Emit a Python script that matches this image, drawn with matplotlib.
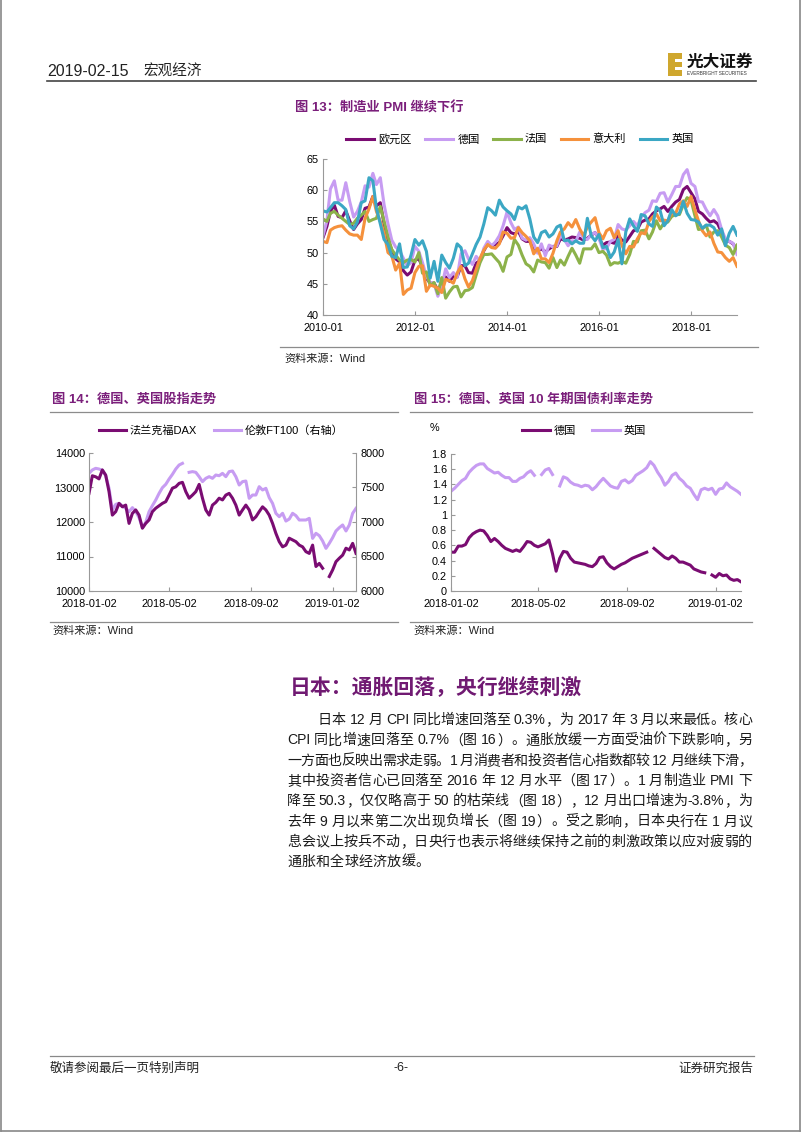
import re
import pandas as pd
import matplotlib
matplotlib.use('Agg')
import matplotlib.pyplot as plt
import matplotlib.dates as mdates
from matplotlib.lines import Line2D
from matplotlib.patches import Rectangle
from matplotlib.font_manager import FontProperties

plt.rcParams['font.family'] = ['Liberation Sans', 'Noto Sans CJK SC', 'DejaVu Sans']

# ---- data: chart 13, manufacturing PMI, monthly 2010-01 .. 2019-01
pmi_names = ['欧元区', '德国', '法国', '意大利', '英国']
pmi_ez = [52.4, 54.2, 56.6, 57.6, 55.8, 55.6, 56.7, 55.1, 53.7, 54.6, 55.3, 57.1,
          57.3, 59.0, 57.5, 58.0, 54.6, 52.0, 50.4, 49.0, 48.5, 47.1, 46.4, 46.9,
          48.8, 49.0, 47.7, 45.9, 45.1, 45.1, 44.0, 45.1, 46.1, 45.4, 46.2, 46.1,
          47.9, 47.9, 46.8, 46.7, 48.3, 48.8, 50.3, 51.4, 51.1, 51.3, 51.6, 52.7,
          54.0, 53.2, 53.0, 53.4, 52.2, 51.8, 51.8, 50.7, 50.3, 50.6, 50.1, 50.6,
          51.0, 51.0, 52.2, 52.0, 52.2, 52.5, 52.4, 52.3, 52.0, 52.3, 52.8, 53.2,
          52.3, 51.2, 51.6, 51.7, 51.5, 52.8, 52.0, 51.7, 52.6, 53.5, 53.7, 54.9,
          55.2, 55.4, 56.2, 56.7, 57.0, 57.4, 56.6, 57.4, 58.1, 58.5, 60.1, 60.6,
          59.6, 58.6, 56.6, 56.2, 55.5, 54.9, 55.1, 54.6, 53.2, 52.0, 51.8, 51.4,
          50.5]
pmi_de = [52.7, 55.1, 60.2, 61.5, 58.4, 58.4, 61.2, 58.2, 55.7, 56.6, 58.1, 60.7,
          60.5, 62.7, 60.9, 62.0, 57.7, 54.6, 52.0, 50.9, 50.3, 49.1, 47.9, 48.4,
          51.0, 50.2, 48.4, 46.2, 45.2, 45.0, 43.0, 44.7, 47.4, 46.0, 46.8, 46.0,
          49.8, 50.3, 49.0, 48.1, 49.4, 48.6, 50.7, 51.8, 51.1, 51.7, 52.7, 54.3,
          56.5, 54.8, 53.7, 54.1, 52.3, 52.0, 52.4, 51.4, 49.9, 51.4, 49.5, 51.2,
          50.9, 51.1, 52.8, 52.1, 51.1, 51.9, 51.8, 53.3, 52.3, 52.1, 52.9, 53.2,
          52.3, 50.5, 50.7, 51.8, 52.1, 54.5, 53.8, 53.6, 54.3, 55.0, 54.3, 55.6,
          56.4, 56.8, 58.3, 58.2, 59.5, 59.6, 58.1, 59.3, 60.6, 60.6, 62.5, 63.3,
          61.1, 60.6, 58.2, 58.1, 56.9, 55.9, 56.9, 55.9, 53.7, 52.2, 51.8, 51.5,
          49.7]
pmi_fr = [55.4, 55.0, 56.3, 56.6, 56.0, 55.5, 55.0, 54.5, 54.7, 55.5, 56.0, 56.6,
          55.0, 55.3, 55.5, 57.4, 55.0, 52.5, 50.5, 49.6, 48.8, 48.4, 48.8, 48.9,
          48.5, 50.0, 46.7, 46.9, 44.7, 45.2, 43.4, 46.0, 42.7, 43.7, 44.5, 44.6,
          42.9, 43.9, 44.0, 44.4, 46.4, 48.4, 49.7, 49.7, 49.8, 49.1, 48.4, 47.0,
          49.3, 49.7, 52.1, 51.2, 49.6, 48.2, 47.8, 46.9, 48.8, 48.5, 48.4, 47.5,
          49.2, 47.6, 48.8, 48.0, 49.4, 50.7, 49.6, 48.3, 50.6, 50.6, 50.6, 51.4,
          50.0, 50.2, 49.6, 48.0, 48.4, 48.3, 48.6, 48.3, 49.7, 51.8, 51.7, 53.5,
          53.6, 52.2, 53.3, 55.1, 53.8, 54.8, 54.9, 55.8, 56.1, 56.1, 57.7, 58.8,
          58.4, 55.9, 53.7, 53.8, 54.4, 52.5, 53.3, 53.5, 52.5, 51.2, 50.8, 49.7,
          51.2]
pmi_it = [51.8, 51.6, 53.6, 54.0, 54.2, 54.3, 53.6, 53.0, 52.8, 52.8, 52.1, 55.5,
          57.0, 59.0, 56.6, 55.0, 53.1, 50.0, 49.5, 47.2, 48.3, 43.3, 44.0, 44.3,
          46.8, 47.8, 47.9, 43.8, 44.8, 44.6, 44.3, 43.6, 45.7, 45.5, 45.1, 46.7,
          47.8, 45.8, 44.5, 45.5, 47.3, 49.1, 50.4, 51.3, 50.8, 50.7, 51.4, 53.3,
          53.1, 52.3, 52.4, 54.0, 53.2, 52.6, 51.9, 49.8, 50.7, 49.0, 49.0, 48.4,
          49.9, 51.9, 53.3, 53.8, 54.8, 54.1, 55.3, 53.8, 52.7, 54.1, 54.9, 55.6,
          53.2, 52.2, 53.5, 53.9, 52.4, 53.5, 51.2, 49.8, 51.0, 50.9, 52.2, 53.2,
          53.0, 55.0, 55.7, 56.2, 55.1, 55.2, 55.1, 56.3, 56.3, 57.8, 58.3, 57.4,
          59.0, 56.8, 55.1, 53.5, 52.7, 53.3, 51.5, 50.1, 50.0, 49.2, 48.6, 49.2,
          47.8]
pmi_uk = [56.7, 56.5, 57.2, 58.0, 58.0, 57.5, 56.9, 54.3, 53.8, 54.9, 58.0, 58.3,
          62.0, 61.5, 57.1, 54.6, 52.1, 51.3, 49.4, 49.2, 51.4, 47.6, 47.7, 49.6,
          52.1, 51.2, 51.9, 50.2, 45.9, 48.6, 45.4, 49.6, 48.4, 47.5, 49.1, 51.4,
          50.8, 47.9, 48.3, 49.8, 51.3, 52.5, 54.6, 57.2, 56.7, 56.0, 58.4, 57.3,
          56.7, 56.2, 55.3, 57.3, 57.0, 57.5, 55.4, 52.5, 51.6, 53.2, 53.5, 52.5,
          53.0, 54.1, 54.4, 51.9, 52.0, 51.4, 51.9, 51.5, 51.5, 55.5, 52.7, 51.9,
          52.9, 50.8, 51.0, 49.2, 50.1, 52.1, 48.2, 53.3, 55.4, 54.3, 53.4, 56.1,
          55.9, 54.6, 54.2, 57.3, 56.7, 54.3, 55.1, 56.9, 55.9, 56.3, 58.2, 56.3,
          55.3, 55.2, 54.9, 53.9, 54.4, 54.4, 54.0, 52.8, 53.8, 51.1, 53.1, 54.2,
          52.8]

# ---- data: chart 14 / 15, sampled every 5 days from 2018-01-02
nan = float('nan')
dax = [12830, 13340, 13310, 13250, 13510, 13360, 12880, 12200, 12300, 12540,
       12440, 12490, 11960, 12250, 12350, 12200, 11820, 11960, 12060, 12300,
       12400, 12470, 12540, 12590, 12780, 12980, 13020, 13120, 13150, 12880,
       12690, 12780, 12880, 13090, 12690, 12350, 12200, 12490, 12570, 12690,
       12640, 12780, 12830, 12690, 12490, 12200, 12350, 12490, 12350, 12060,
       12150, 12300, 12440, 12350, 12200, 11960, 11670, 11430, 11280, 11330,
       11530, 11480, 11430, 11330, 11280, 11140, 11090, 11330, 10710, 10800,
       10660, nan, 10420, 10610, 10850, 10950, 11040, 11240, 11190, 11380,
       11090]
ftse = [7705, 7754, 7778, 7768, 7749, 7671, 7488, 7174, 7256, 7270,
        7232, 7198, 7150, 7208, 7150, 7063, 6918, 6995, 7150, 7237,
        7319, 7415, 7498, 7546, 7623, 7691, 7768, 7826, 7850, nan,
        7720, 7730, 7720, 7657, 7585, 7633, 7657, 7633, 7681, 7671,
        7705, 7657, 7730, 7739, 7657, 7536, 7585, 7594, 7343, 7391,
        7391, 7512, 7464, 7488, 7353, 7270, 7126, 7077, 7126, 7014,
        7043, 7126, 7092, 7029, 7029, 7029, 7053, 6763, 6836, 6802,
        6725, 6618, 6691, 6773, 6870, 6918, 6957, 6870, 6957, 7126,
        7198]
bund = [0.51, 0.51, 0.59, 0.59, 0.61, 0.70, 0.75, 0.78, 0.80, 0.79,
        0.73, 0.65, 0.69, 0.65, 0.60, 0.56, 0.54, 0.52, 0.54, 0.52,
        0.58, 0.65, 0.64, 0.60, 0.58, 0.60, 0.62, 0.67, 0.49, 0.26,
        0.43, 0.52, 0.51, 0.43, 0.38, 0.37, 0.36, 0.35, 0.33, 0.32,
        0.36, 0.44, 0.45, 0.37, 0.32, 0.29, 0.32, 0.35, 0.37, 0.40,
        0.43, 0.45, 0.47, 0.49, 0.51, nan, 0.56, 0.52, 0.48, 0.44,
        0.42, 0.46, 0.43, 0.38, 0.38, 0.36, 0.34, 0.29, 0.27, 0.25,
        0.24, nan, 0.21, 0.18, 0.23, 0.20, 0.21, 0.16, 0.14, 0.15,
        0.12]
gilt = [1.31, 1.35, 1.40, 1.45, 1.48, 1.56, 1.61, 1.65, 1.67, 1.67,
        1.61, 1.58, 1.55, 1.56, 1.52, 1.49, 1.49, 1.44, 1.44, 1.48,
        1.50, 1.55, 1.58, 1.52, nan, 1.53, 1.59, 1.61, 1.53, nan,
        1.38, 1.50, 1.48, 1.43, 1.40, 1.39, 1.37, 1.39, 1.38, 1.33,
        1.37, 1.43, 1.48, 1.43, 1.38, 1.36, 1.35, 1.44, 1.46, 1.42,
        1.45, 1.52, 1.55, 1.58, 1.62, 1.70, 1.65, 1.56, 1.49, 1.39,
        1.44, 1.52, 1.55, 1.48, 1.44, 1.38, 1.35, 1.27, 1.20, 1.33,
        1.35, 1.33, 1.35, 1.27, 1.34, 1.35, 1.42, 1.37, 1.34, 1.31,
        1.27]

body_lines = [
    "日本 12 月 CPI 同比增速回落至 0.3%，为 2017 年 3 月以来最低。核心",
    "CPI 同比增速回落至 0.7%（图 16）。通胀放缓一方面受油价下跌影响，另",
    "一方面也反映出需求走弱。1 月消费者和投资者信心指数都较 12 月继续下滑，",
    "其中投资者信心已回落至 2016 年 12 月水平（图 17）。1 月制造业 PMI 下",
    "降至 50.3，仅仅略高于 50 的枯荣线（图 18），12 月出口增速为-3.8%，为",
    "去年 9 月以来第二次出现负增长（图 19）。受之影响，日本央行在 1 月议",
    "息会议上按兵不动，日央行也表示将继续保持之前的刺激政策以应对疲弱的",
    "通胀和全球经济放缓。",
]

W, H = 802, 1133
PURPLE = '#7A0C72'
LAVENDER = '#C79CF2'
TITLE = '#7B1F7B'
GRID = '#8C8C8C'
pmi_colors = [PURPLE, LAVENDER, '#8CB24A', '#F5913C', '#3BA7C4']

fig = plt.figure(figsize=(W / 100, H / 100), dpi=100)


def fx(x):
    return x / W


def fy(y):
    return 1 - y / H


def add_ax(l, t, r, b):
    return fig.add_axes([l / W, 1 - b / H, (r - l) / W, (b - t) / H])


def hline(x0, x1, y, color=GRID, lw=0.9):
    fig.add_artist(Line2D([fx(x0), fx(x1)], [fy(y), fy(y)], color=color, lw=lw))


def style(ax):
    for s in ['top', 'right']:
        ax.spines[s].set_visible(False)
    for s in ['left', 'bottom']:
        ax.spines[s].set_color('#999999')
        ax.spines[s].set_linewidth(0.8)
    ax.tick_params(direction='in', length=3, width=0.8, color='#999999',
                   labelsize=7.8, pad=3)
    ax.tick_params(axis='x', pad=6)


# page frame
fig.add_artist(Line2D([fx(1), fx(1)], [fy(0), fy(1131)], color='#888888', lw=1.2))
fig.add_artist(Line2D([fx(800), fx(800)], [fy(0), fy(1131)], color='#888888', lw=1.2))
fig.add_artist(Line2D([fx(1), fx(800)], [fy(1131), fy(1131)], color='#888888', lw=1.2))

# header
fig.text(fx(47), fy(72), '2019-02-15', fontsize=11.5, va='center', color='#222222')
fig.text(fx(143), fy(72), '宏观经济', fontsize=10.5, va='center', color='#222222',
         family=['Noto Sans CJK SC'])
hline(47, 756, 81, color='#444444', lw=1.2)
fig.add_artist(Rectangle((fx(668), fy(76)), 14 / W, 23 / H, transform=fig.transFigure,
                         color='#CFA72E', lw=0))
for yy in (59, 67):
    fig.add_artist(Rectangle((fx(675), fy(yy + 3)), 8 / W, 3 / H, transform=fig.transFigure,
                             color='white', lw=0))
fig.text(fx(687), fy(62), '光大证券', fontsize=12, fontweight='bold', va='center',
         family=['Noto Sans CJK SC'], color='#111111')
fig.text(fx(687), fy(73.5), 'EVERBRIGHT SECURITIES', fontsize=3.4, va='center', color='#333333')

# ---- chart 13
fig.text(fx(379), fy(108), '图 13：制造业 PMI 继续下行', fontsize=9.5, fontweight='bold',
         ha='center', va='center', color=TITLE)
months = pd.date_range('2010-01-01', periods=len(pmi_ez), freq='MS')
ax13 = add_ax(323, 159, 737, 315)
handles = []
for vals, name, c in zip([pmi_ez, pmi_de, pmi_fr, pmi_it, pmi_uk], pmi_names, pmi_colors):
    ln, = ax13.plot(months, vals, color=c, lw=2.2, label=name, solid_joinstyle='round')
    handles.append(ln)
ax13.set_xlim(months[0], months[-1])
ax13.set_ylim(40, 65)
ax13.set_yticks(range(40, 66, 5))
ax13.set_xticks(pd.to_datetime(['2010-01-01', '2012-01-01', '2014-01-01',
                                '2016-01-01', '2018-01-01']))
ax13.xaxis.set_major_formatter(mdates.DateFormatter('%Y-%m'))
style(ax13)
fig.legend(handles=handles, loc='center', bbox_to_anchor=(fx(520), fy(139)), ncol=5,
           frameon=False, fontsize=8, handlelength=2.5, handletextpad=0.4,
           columnspacing=1.2)
hline(280, 758, 347)
fig.text(fx(284), fy(359), '资料来源：Wind', fontsize=8, va='center', color='#222222')

# ---- chart 14
days = pd.date_range('2018-01-02', periods=len(dax), freq='5D')
dticks = pd.to_datetime(['2018-01-02', '2018-05-02', '2018-09-02', '2019-01-02'])
fig.text(fx(52), fy(400), '图 14：德国、英国股指走势', fontsize=9.5, fontweight='bold',
         va='center', color=TITLE)
hline(50, 398, 412)
ax14 = add_ax(89, 453, 356, 591)
ax14r = ax14.twinx()
ln_dax, = ax14.plot(days, dax, color=PURPLE, lw=2.2, label='法兰克福DAX')
ln_ft, = ax14r.plot(days, ftse, color=LAVENDER, lw=2.2, label='伦敦FT100（右轴）')
ax14.set_zorder(ax14r.get_zorder() + 1)
ax14.patch.set_visible(False)
ax14.set_ylim(10000, 14000)
ax14.set_yticks(range(10000, 14001, 1000))
ax14r.set_ylim(6000, 8000)
ax14r.set_yticks(range(6000, 8001, 500))
ax14.set_xlim(days[0], days[-1])
ax14.set_xticks(dticks)
ax14.xaxis.set_major_formatter(mdates.DateFormatter('%Y-%m-%d'))
style(ax14)
ax14r.spines['top'].set_visible(False)
ax14r.spines['left'].set_visible(False)
ax14r.spines['bottom'].set_visible(False)
ax14r.spines['right'].set_color('#999999')
ax14r.spines['right'].set_linewidth(0.8)
ax14r.tick_params(direction='in', length=3, width=0.8, color='#999999', labelsize=7.8, pad=3)
fig.legend(handles=[ln_dax, ln_ft], loc='center', bbox_to_anchor=(fx(221), fy(431)), ncol=2,
           frameon=False, fontsize=8, handlelength=2.5, handletextpad=0.3,
           columnspacing=1.5)
hline(50, 398, 622)
fig.text(fx(52), fy(631), '资料来源：Wind', fontsize=8, va='center', color='#222222')

# ---- chart 15
fig.text(fx(414), fy(400), '图 15：德国、英国 10 年期国债利率走势', fontsize=9.5,
         fontweight='bold', va='center', color=TITLE)
hline(410, 752, 412)
ax15 = add_ax(451, 454, 741, 591)
ln_b, = ax15.plot(days, bund, color=PURPLE, lw=2.2, label='德国')
ln_g, = ax15.plot(days, gilt, color=LAVENDER, lw=2.2, label='英国')
ax15.set_ylim(0, 1.8)
yt = [0, 0.2, 0.4, 0.6, 0.8, 1.0, 1.2, 1.4, 1.6, 1.8]
ax15.set_yticks(yt)
ax15.set_yticklabels(['0', '0.2', '0.4', '0.6', '0.8', '1', '1.2', '1.4', '1.6', '1.8'])
ax15.set_xlim(days[0], days[-1])
ax15.set_xticks(dticks)
ax15.xaxis.set_major_formatter(mdates.DateFormatter('%Y-%m-%d'))
style(ax15)
fig.text(fx(434), fy(428), '%', fontsize=7.8, ha='center', va='center')
fig.legend(handles=[ln_b, ln_g], loc='center', bbox_to_anchor=(fx(584), fy(431)), ncol=2,
           frameon=False, fontsize=8, handlelength=2.5, handletextpad=0.3,
           columnspacing=1.5)
hline(410, 752, 622)
fig.text(fx(413), fy(631), '资料来源：Wind', fontsize=8, va='center', color='#222222')

# ---- section text
fig.text(fx(290), fy(687), '日本：通胀回落，央行继续刺激', fontsize=15, fontweight='bold',
         va='center', color='#701A72', family=['Noto Sans CJK SC'])

body_prop = FontProperties(family=['Liberation Sans', 'Noto Sans CJK SC'], size=10.1)
renderer = fig.canvas.get_renderer()


def put_line(text, x0, x1, y, justify=True):
    toks = re.findall(r'[A-Za-z0-9.%\-]+| |[^A-Za-z0-9.%\- ]', text)
    widths = []
    for t in toks:
        if t == ' ':
            widths.append(3.5)
        else:
            widths.append(renderer.get_text_width_height_descent(t, body_prop, ismath=False)[0])
    gap = (x1 - x0 - sum(widths)) / (len(toks) - 1) if justify else 0.3
    x = x0
    for t, w in zip(toks, widths):
        if t != ' ':
            fig.text(fx(x), fy(y), t, fontproperties=body_prop, va='center', ha='left',
                     color='#1a1a1a')
        x += w + gap


for i, line in enumerate(body_lines):
    x0 = 318 if i == 0 else 287
    put_line(line, x0, 752, 720 + 20.3 * i, justify=(i < len(body_lines) - 1))

# ---- footer
hline(50, 754, 1056, color='#888888', lw=0.9)
fig.text(fx(50), fy(1068), '敬请参阅最后一页特别声明', fontsize=9, va='center', color='#222222',
         family=['Noto Sans CJK SC'])
fig.text(fx(401), fy(1068), '-6-', fontsize=9, ha='center', va='center', color='#222222')
fig.text(fx(753), fy(1068), '证券研究报告', fontsize=9, ha='right', va='center', color='#222222',
         family=['Noto Sans CJK SC'])

fig.savefig('out.png', dpi=100)
